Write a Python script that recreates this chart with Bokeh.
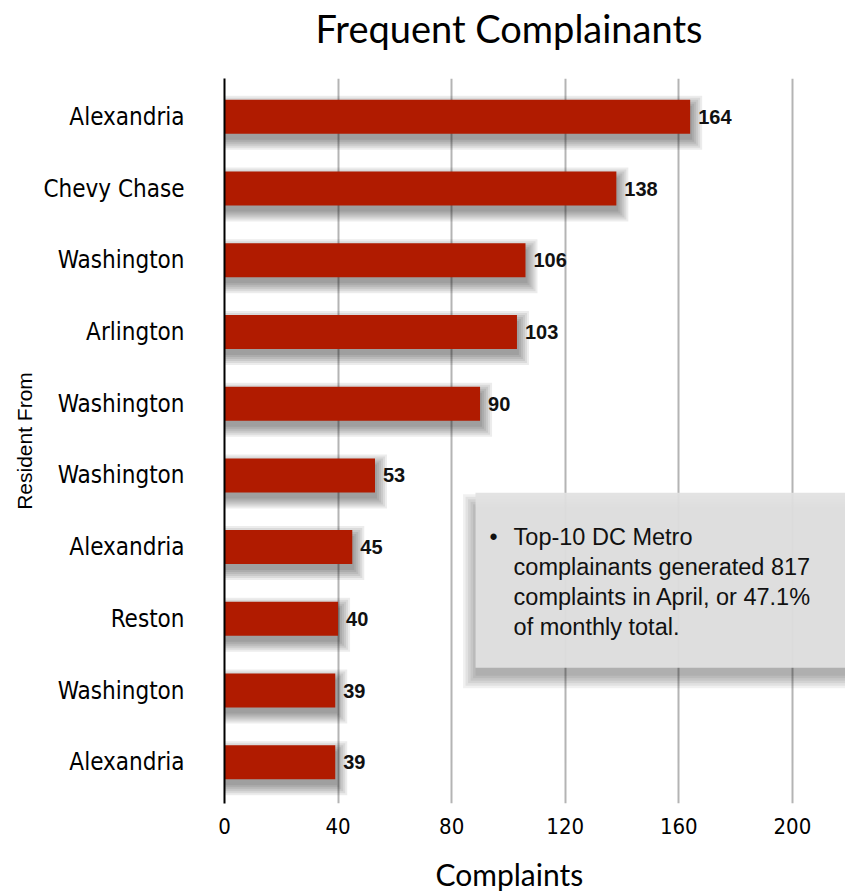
from bokeh.plotting import figure
from bokeh.models import FixedTicker, ColumnDataSource, Title, LinearAxis
from bokeh.core.properties import value
from bokeh.embed import file_html
from bokeh.resources import INLINE

# ---- data ----
residents = ["Alexandria", "Chevy Chase", "Washington", "Arlington", "Washington",
             "Washington", "Alexandria", "Reston", "Washington", "Alexandria"]
complaints = [164, 138, 106, 103, 90, 53, 45, 40, 39, 39]
x_ticks = [0, 40, 80, 120, 160, 200]
note_lines = ["Top-10 DC Metro", "complainants generated 817",
              "complaints in April, or 47.1%", "of monthly total."]

n = len(residents)
ypos = [n - i for i in range(n)]  # top row first

COND = "DejaVu Sans Condensed"
GEO = "Lato"
SANS = "Liberation Sans"

p = figure(width=845, height=896, output_backend="svg", toolbar_location=None,
           x_range=(0, 218.7), y_range=(0.425, 10.534),
           min_border_left=224, min_border_right=0, min_border_top=78, min_border_bottom=93)
p.outline_line_color = None
p.background_fill_color = "white"
p.border_fill_color = "white"

# grid
p.xgrid.ticker = FixedTicker(ticks=x_ticks)
p.xgrid.grid_line_color = "#b4b4b4"
p.xgrid.grid_line_width = 2
p.ygrid.grid_line_color = None

# x axis
p.xaxis.ticker = FixedTicker(ticks=x_ticks)
p.xaxis.axis_line_color = None
p.xaxis.major_tick_line_color = None
p.xaxis.minor_tick_line_color = None
p.xaxis.major_label_text_font = COND
p.xaxis.major_label_text_font_size = "22px"
p.xaxis.major_label_text_color = "black"
p.xaxis.major_label_standoff = 8

# y axis
p.yaxis.ticker = FixedTicker(ticks=ypos)
p.yaxis.major_label_overrides = {y: r for y, r in zip(ypos, residents)}
p.yaxis.axis_line_color = "black"
p.yaxis.axis_line_width = 2
p.yaxis.major_tick_line_color = None
p.yaxis.minor_tick_line_color = None
p.yaxis.major_label_text_font = COND
p.yaxis.major_label_text_font_size = "24px"
p.yaxis.major_label_text_color = "black"
p.yaxis.major_label_standoff = 34
p.yaxis.axis_label = "Resident From"
p.yaxis.axis_label_text_font = SANS
p.yaxis.axis_label_text_font_size = "21px"
p.yaxis.axis_label_text_font_style = "normal"
p.yaxis.axis_label_text_color = "black"
p.yaxis.axis_label_standoff = 5


def spacer_axis(size):
    # invisible axis used only to reserve vertical space in a side panel
    return LinearAxis(ticker=FixedTicker(ticks=[0]), major_label_overrides={0: ""},
                      major_label_text_font_size="1px", axis_line_color=None,
                      major_tick_line_color=None, minor_tick_line_color=None,
                      major_tick_in=0, major_tick_out=size, minor_tick_in=0,
                      minor_tick_out=0, major_label_standoff=0)


# spacer between frame and title (above); title is outermost
p.add_layout(spacer_axis(28), "above")
p.title.text = "Frequent Complainants"
p.title.text_font = GEO
p.title.text_font_size = "38px"
p.title.text_font_style = "normal"
p.title.text_color = "black"
p.title.align = "left"
p.title.offset = 91
p.title.standoff = 0

# spacer below tick labels, then x label as title
p.add_layout(spacer_axis(15), "below")
xt = Title(text="Complaints", text_font=GEO, text_font_size="30px", text_font_style="normal",
           align="left", offset=211, text_color="black", standoff=4)
p.add_layout(xt, "below")

src = ColumnDataSource(dict(y=ypos, v=complaints, lbl=[str(c) for c in complaints]))

# bar shadows (layered soft rects, offset down-right)
pxx = 621 / 218.7
pxy = 71.69
bar_h = 0.474
for k in range(6):
    e = k * 2.0
    p.hbar(y=[y - 6 / pxy for y in ypos], left=0,
           right=[v + (2 + e) / pxx for v in complaints],
           height=bar_h + 2 * e / pxy,
           fill_color="black", fill_alpha=0.075, line_color=None)

p.hbar(y="y", left=0, right="v", height=bar_h, source=src,
       fill_color="#B01B00", line_color=None)

p.text(x="v", y="y", text="lbl", source=src, x_offset=8,
       text_font=value(SANS), text_font_size="20px", text_font_style="bold",
       text_baseline="middle", text_align="left", text_color="#111111")

# note box with soft shadow below
bx0, bx1 = 88.4, 230
by0, by1 = 2.318, 4.759
for k in range(6):
    e = k * 2.5
    p.quad(left=bx0 - e / pxx, right=bx1, top=by1 - (14 - e) / pxy,
           bottom=by0 - (8 + e) / pxy,
           fill_color="black", fill_alpha=0.06, line_color=None)
p.quad(left=bx0, right=bx1, top=by1, bottom=by0,
       fill_color="#e1e1e1", fill_alpha=0.94, line_color=None)

line0 = 4.145
step = 30 / pxy
p.text(x=[94.7], y=[line0], text=["\u2022"], text_font=value(SANS), text_font_size="23px",
       text_baseline="middle", text_align="center", text_color="#111111")
p.text(x=[101.8] * len(note_lines), y=[line0 - i * step for i in range(len(note_lines))],
       text=note_lines, text_font=value(SANS), text_font_size="23.5px",
       text_baseline="middle", text_align="left", text_color="#111111")

open("out.html", "w").write(file_html(p, INLINE))
